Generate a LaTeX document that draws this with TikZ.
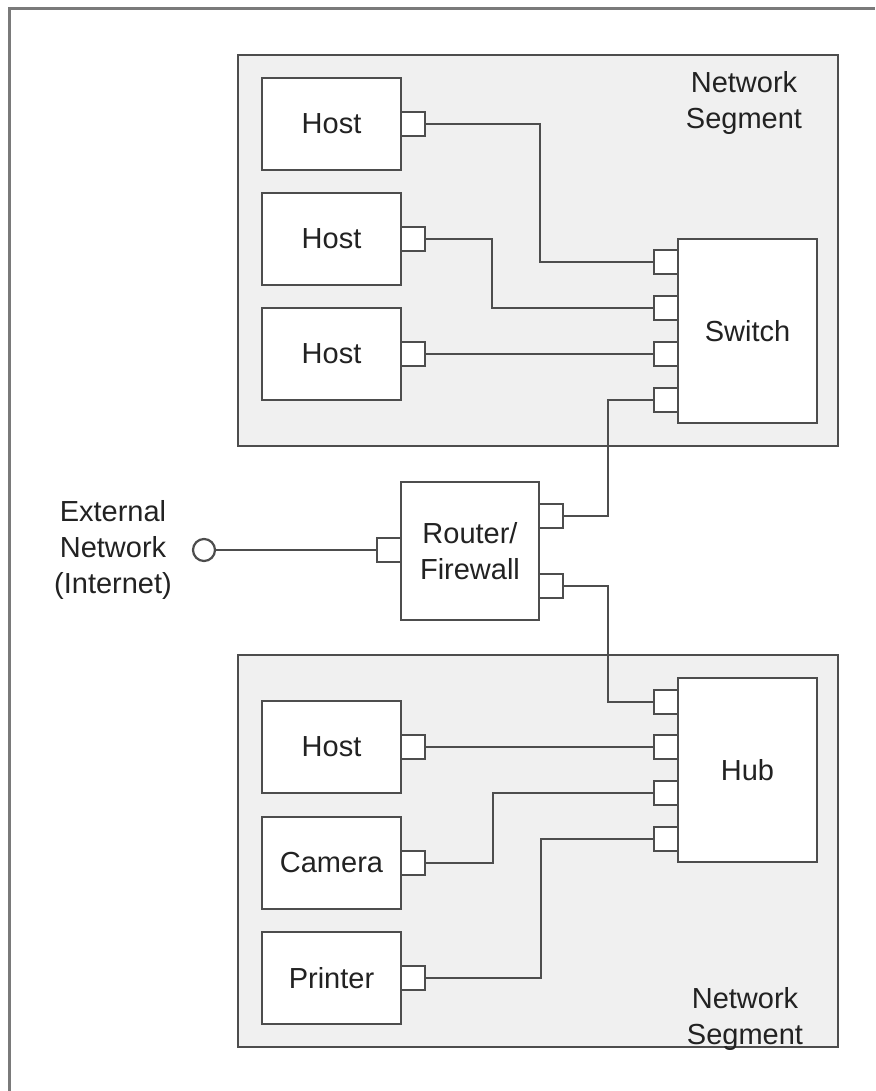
\documentclass[tikz,border=0pt]{standalone}
\usepackage{fontspec}
\setmainfont{Liberation Sans}
\usetikzlibrary{calc}
\definecolor{ln}{HTML}{4D4D4D}
\definecolor{frm}{HTML}{7A7A7A}
\definecolor{seg}{HTML}{F0F0F0}
\definecolor{txt}{HTML}{222222}
\tikzset{
  segbox/.style={draw=ln, line width=2.8pt, fill=seg},
  dev/.style={draw=ln, line width=2.8pt, fill=white, inner sep=0pt, outer sep=0pt, text=txt, align=center, font=\fontsize{29}{36}\selectfont},
  port/.style={draw=ln, line width=2.8pt, fill=white, inner sep=0pt, outer sep=0pt, minimum width=24pt, minimum height=24pt},
  wire/.style={draw=ln, line width=2.8pt},
  lbl/.style={text=txt, align=center, font=\fontsize{29}{36}\selectfont, inner sep=0pt},
}
\begin{document}
\begin{tikzpicture}[x=1pt,y=-1pt]
\fill[white] (0,0) rectangle (875,1091);
\useasboundingbox (0,0) rectangle (875,1091);
% outer frame
\draw[frm, line width=3pt] (9,1091) -- (9,9) -- (875,9);
% segments
\draw[segbox] (238,55) rectangle (838,446);
\draw[segbox] (238,655) rectangle (838,1047);
\node[lbl] (segA) at (744,103) {Network\\Segment};
\node[lbl] (segB) at (745,1019) {Network\\Segment};
% top hosts
\node[dev, minimum width=139pt, minimum height=92pt] (h1) at (331.5,124) {Host};
\node[dev, minimum width=139pt, minimum height=92pt] (h2) at (331.5,239) {Host};
\node[dev, minimum width=139pt, minimum height=92pt] (h3) at (331.5,354) {Host};
% switch
\node[dev, minimum width=139pt, minimum height=184pt] (sw) at (747.5,331) {Switch};
% router
\node[dev, minimum width=138pt, minimum height=138pt] (rt) at (470,551) {Router/\\Firewall};
% bottom devices
\node[dev, minimum width=139pt, minimum height=92pt] (bh) at (331.5,747) {Host};
\node[dev, minimum width=139pt, minimum height=92pt] (cam) at (331.5,863) {Camera};
\node[dev, minimum width=139pt, minimum height=92pt] (prn) at (331.5,978) {Printer};
% hub
\node[dev, minimum width=139pt, minimum height=184pt] (hub) at (747.5,770) {Hub};
% ports
\node[port] (ph1) at (413,124) {};
\node[port] (ph2) at (413,239) {};
\node[port] (ph3) at (413,354) {};
\node[port] (ps1) at (666,262) {};
\node[port] (ps2) at (666,308) {};
\node[port] (ps3) at (666,354) {};
\node[port] (ps4) at (666,400) {};
\node[port] (pr1) at (551,516) {};
\node[port] (pr2) at (551,586) {};
\node[port] (prl) at (389,550) {};
\node[port] (pbh) at (413,747) {};
\node[port] (pcam) at (413,863) {};
\node[port] (pprn) at (413,978) {};
\node[port] (pu1) at (666,702) {};
\node[port] (pu2) at (666,747) {};
\node[port] (pu3) at (666,793) {};
\node[port] (pu4) at (666,839) {};
% external
\node[draw=ln, line width=2.2pt, fill=white, circle, minimum size=22pt, inner sep=0pt] (ext) at (204,550) {};
\node[lbl] (extl) at (113,550) {External\\Network\\(Internet)};
% wires
\draw[wire] (ph1.east) -- ++(115,0) |- (ps1.west);
\draw[wire] (ph2.east) -- ++(67,0) |- (ps2.west);
\draw[wire] (ph3.east) -- (ps3.west);
\draw[wire] (pr1.east) -- ++(45,0) |- (ps4.west);
\draw[wire] (pr2.east) -- ++(45,0) |- (pu1.west);
\draw[wire] (pbh.east) -- (pu2.west);
\draw[wire] (pcam.east) -- ++(68,0) |- (pu3.west);
\draw[wire] (pprn.east) -- ++(116,0) |- (pu4.west);
\draw[wire] (ext.east) -- (prl.west);
\end{tikzpicture}
\end{document}
